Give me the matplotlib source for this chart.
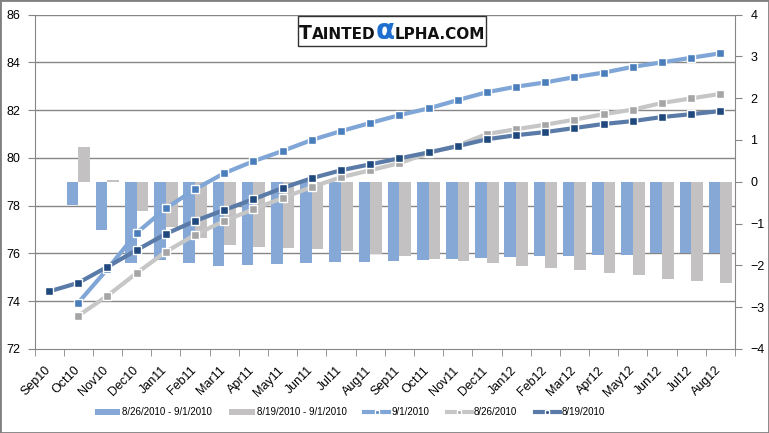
import numpy as np
import matplotlib
matplotlib.use("Agg")
import matplotlib.pyplot as plt
from matplotlib.patches import Rectangle
from matplotlib.transforms import ScaledTranslation
from matplotlib.offsetbox import TextArea, HPacker, AnnotationBbox

plt.rcParams["font.family"] = ["Liberation Sans", "DejaVu Sans"]

months = ["Sep10", "Oct10", "Nov10", "Dec10", "Jan11", "Feb11", "Mar11", "Apr11",
          "May11", "Jun11", "Jul11", "Aug11", "Sep11", "Oct11", "Nov11", "Dec11",
          "Jan12", "Feb12", "Mar12", "Apr12", "May12", "Jun12", "Jul12", "Aug12"]

# bar series (right axis), Sep10 has no value
chg_0826_0901 = [np.nan, -0.55, -1.15, -1.95, -1.86, -1.95, -2.02, -2.0,
                 -1.97, -1.95, -1.93, -1.93, -1.90, -1.88, -1.85, -1.83,
                 -1.81, -1.78, -1.78, -1.76, -1.74, -1.71, -1.71, -1.71]
chg_0819_0901 = [np.nan, 0.84, 0.04, -0.70, -1.09, -1.35, -1.52, -1.55,
                 -1.59, -1.62, -1.66, -1.73, -1.78, -1.85, -1.90, -1.95,
                 -2.02, -2.07, -2.12, -2.19, -2.24, -2.33, -2.38, -2.43]

# line series (left axis)
curve_0901 = [np.nan, 73.94, 75.35, 76.86, 77.89, 78.69, 79.36, 79.86,
              80.29, 80.75, 81.12, 81.46, 81.79, 82.07, 82.42, 82.75,
              82.98, 83.16, 83.38, 83.57, 83.81, 84.00, 84.19, 84.38]
curve_0826 = [np.nan, 73.39, 74.23, 75.18, 76.07, 76.78, 77.36, 77.85,
              78.32, 78.78, 79.19, 79.48, 79.78, 80.20, 80.52, 81.0,
              81.2, 81.39, 81.6, 81.83, 82.02, 82.30, 82.49, 82.68]
curve_0819 = [74.41, 74.77, 75.44, 76.14, 76.82, 77.36, 77.82, 78.27,
              78.74, 79.15, 79.48, 79.73, 79.98, 80.23, 80.49, 80.78,
              80.95, 81.08, 81.25, 81.42, 81.54, 81.71, 81.83, 81.96]

x = np.arange(len(months))
grid_c = "#868686"

fig = plt.figure(figsize=(7.69, 4.33), dpi=100)
fig.patch.set_facecolor("white")
ax = fig.add_axes([0.0449, 0.194, 0.9109, 0.7724])
ax2 = ax.twinx()

ax.set_ylim(72, 86)
ax2.set_ylim(-4, 4)
ax.set_xlim(-0.5, len(months) - 0.5)

# gridlines behind bars, drawn on the right axis in converted units
for v in range(74, 87, 2):
    ax2.axhline((v - 79) * 8 / 14, color=grid_c, lw=1, zorder=0)

ax2.bar(x - 0.2, chg_0826_0901, width=0.4, color="#85A8D6", zorder=2,
        label="8/26/2010 - 9/1/2010")
ax2.bar(x + 0.2, chg_0819_0901, width=0.4, color="#C3C1C1", zorder=2,
        label="8/19/2010 - 9/1/2010")

ax.set_zorder(ax2.get_zorder() + 1)
ax.patch.set_visible(False)

ax.plot(x, curve_0901, color="#7FA6D6", lw=3, marker="s", ms=6,
        mfc="#4A7EBB", mec="white", mew=1, label="9/1/2010")
ax.plot(x, curve_0826, color="#C6C6C6", lw=3, marker="s", ms=6,
        mfc="#A5A5A5", mec="white", mew=1, label="8/26/2010")
ax.plot(x, curve_0819, color="#5A7BA8", lw=3, marker="s", ms=6,
        mfc="#1F497D", mec="white", mew=1, label="8/19/2010")

for a in (ax, ax2):
    for s in a.spines.values():
        s.set_visible(False)
ax.spines["left"].set_visible(True)
ax.spines["left"].set_color(grid_c)
ax.spines["bottom"].set_visible(True)
ax.spines["bottom"].set_color(grid_c)
ax2.spines["right"].set_visible(True)
ax2.spines["right"].set_color(grid_c)

ax.set_yticks(range(72, 87, 2))
ax2.set_yticks(range(-4, 5))
ax.tick_params(axis="y", length=5, color=grid_c, labelsize=9, pad=5)
ax2.tick_params(axis="y", length=5, color=grid_c, labelsize=9, pad=6)

ax.set_xticks(x)
ax.set_xticklabels(months, rotation=45, ha="right", rotation_mode="anchor")
ax.set_xticks(np.arange(-0.5, len(months), 1), minor=True)
ax.tick_params(axis="x", which="major", length=0, labelsize=9, pad=11)
ax.tick_params(axis="x", which="minor", length=5, color=grid_c)
shift = ScaledTranslation(-0.05, 0, fig.dpi_scale_trans)
for lbl in ax.get_xticklabels():
    lbl.set_transform(lbl.get_transform() + shift)

h1, l1 = ax2.get_legend_handles_labels()
h2, l2 = ax.get_legend_handles_labels()
fig.legend(h1 + h2, l1 + l2, loc="center", bbox_to_anchor=(350 / 769, 0.048),
           ncol=5, frameon=False, fontsize=7, handlelength=2.6,
           handleheight=0.5, columnspacing=1.8, handletextpad=0.2,
           markerscale=0.6)

# logo
logo_font = ["DejaVu Sans"]
parts = [TextArea("T", textprops=dict(fontsize=13.5, fontweight="bold", color="#111111", family=logo_font)),
         TextArea("AINTED", textprops=dict(fontsize=11, fontweight="bold", color="#111111", family=logo_font)),
         TextArea("\u03b1", textprops=dict(fontsize=20, fontweight="bold", color="#1F6FD0", family=logo_font)),
         TextArea("LPHA.COM", textprops=dict(fontsize=11, fontweight="bold", color="#111111", family=logo_font))]
logo = HPacker(children=parts, align="baseline", pad=0, sep=0)
ab = AnnotationBbox(logo, (392 / 769, 1 - 31 / 433), xycoords="figure fraction",
                    frameon=True, pad=0.08,
                    bboxprops=dict(edgecolor="#333333", facecolor="white", lw=1, boxstyle="square,pad=0.08"))
fig.add_artist(ab)

fig.add_artist(Rectangle((0, 0), 1, 1, transform=fig.transFigure, fill=False,
                         edgecolor="#808080", lw=2))

fig.savefig("out.png", dpi=100)
